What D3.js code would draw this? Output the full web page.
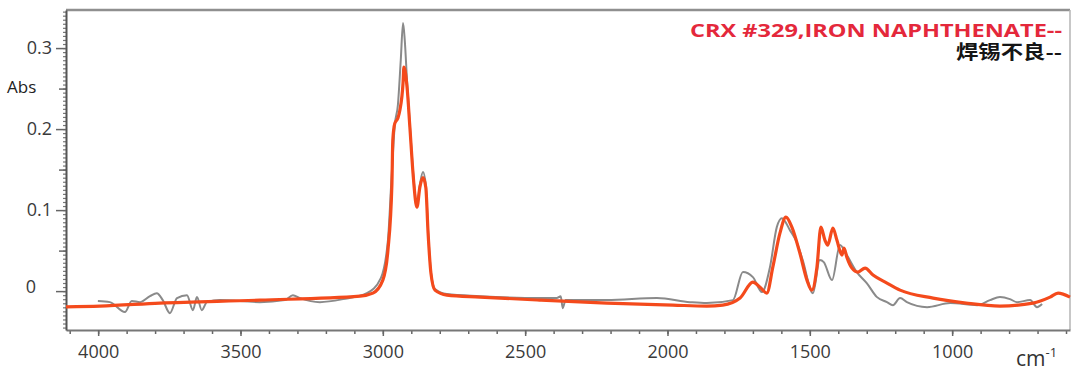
<!DOCTYPE html>
<html>
<head>
<meta charset="utf-8">
<script src="https://cdn.jsdelivr.net/npm/d3@7"></script>
<style>
  body { margin: 0; background: #fff; }
  svg { display: block; font-family: "Open Sans", "DejaVu Sans", sans-serif; }
</style>
</head>
<body>
<div class="chart_box"></div>
<script>
// spectrum data: wavenumber (cm-1) and absorbance
const redWave = [4113, 3994, 3783, 3432, 3080, 3035, 3000, 2982, 2968, 2965, 2958, 2947, 2940, 2929, 2926,
  2915, 2905, 2894, 2884, 2880, 2870, 2859, 2849, 2841, 2831, 2817, 2775, 2659, 2449, 2213, 1981, 1862,
  1806, 1745, 1700, 1675, 1651, 1630, 1605, 1584, 1563, 1535, 1510, 1493, 1475, 1461, 1447, 1437, 1419,
  1405, 1387, 1380, 1370, 1352, 1331, 1306, 1278, 1229, 1183, 1067, 951, 832, 716, 656, 628, 586];
const redAbs = [-0.0194, -0.0185, -0.0148, -0.0111, -0.0062, -0.0025, 0.0136, 0.0506, 0.133, 0.186, 0.207,
  0.2136, 0.2235, 0.257, 0.2765, 0.252, 0.2025, 0.1457, 0.1086, 0.1037, 0.128, 0.14, 0.128, 0.0716, 0.0222,
  0.0012, -0.005, -0.0074, -0.0111, -0.0148, -0.0173, -0.0185, -0.0173, -0.0086, 0.0111, 0.0049, -0.0025,
  0.0296, 0.0716, 0.0914, 0.079, 0.047, 0.0136, 0.0012, 0.0296, 0.079, 0.063, 0.0568, 0.0778, 0.063,
  0.0444, 0.053, 0.042, 0.0284, 0.0235, 0.0284, 0.0198, 0.0099, 0.0012, -0.0086, -0.0148, -0.0185,
  -0.0148, -0.0074, -0.0025, -0.0074];

const greyWave = [4001, 3959, 3906, 3882, 3853, 3818, 3794, 3773, 3748, 3723, 3688, 3667, 3653, 3636, 3618,
  3572, 3432, 3344, 3316, 3291, 3221, 3140, 3056, 3007, 2982, 2968, 2958, 2947, 2937, 2929, 2923, 2915,
  2905, 2894, 2884, 2880, 2870, 2859, 2849, 2841, 2831, 2817, 2775, 2659, 2449, 2389, 2375, 2368, 2358,
  2213, 2037, 1921, 1862, 1770, 1735, 1700, 1668, 1640, 1616, 1598, 1570, 1546, 1525, 1489, 1465, 1451,
  1422, 1394, 1370, 1335, 1300, 1264, 1229, 1208, 1183, 1159, 1088, 1007, 912, 867, 832, 797, 772, 726,
  702, 684];
const greyAbs = [-0.0123, -0.0136, -0.0259, -0.0123, -0.0136, -0.0062, -0.0025, -0.0111, -0.0272, -0.0086,
  -0.005, -0.0235, -0.0074, -0.0235, -0.0136, -0.0111, -0.0136, -0.0111, -0.005, -0.0086, -0.0136,
  -0.0099, -0.0025, 0.016, 0.063, 0.149, 0.205, 0.23, 0.285, 0.331, 0.31, 0.26, 0.205, 0.149, 0.112,
  0.107, 0.131, 0.147, 0.131, 0.075, 0.0235, 0.0025, -0.0037, -0.0062, -0.0086, -0.0086, -0.0062, -0.021,
  -0.0111, -0.0111, -0.0086, -0.0136, -0.0148, -0.0111, 0.0235, 0.0173, -0.0012, 0.0296, 0.079, 0.09,
  0.0753, 0.0605, 0.0383, -0.0025, 0.0383, 0.0358, 0.0136, 0.0568, 0.0444, 0.0235, 0.0099, -0.0074,
  -0.0136, -0.0173, -0.0086, -0.0136, -0.0198, -0.0148, -0.0173, -0.0111, -0.0074, -0.0099, -0.0136,
  -0.0111, -0.0198, -0.016];

const xTicks = [4000, 3500, 3000, 2500, 2000, 1500, 1000];
const yTicks = [0, 0.1, 0.2, 0.3];
const legendLabels = ["CRX #329,IRON NAPHTHENATE--", "焊锡不良--"];

const width = 1080, height = 374;
const margin = { left: 66, right: 1070, top: 10, bottom: 330 };

const svg = d3
  .select(".chart_box")
  .append("svg")
  .attr("width", width)
  .attr("height", height);

const xScale = d3.scaleLinear().domain([4113, 586]).range([margin.left, margin.right]);
const yScale = d3.scaleLinear().domain([-0.048, 0.347]).range([margin.bottom, margin.top]);

// frame
svg.append("line").attr("x1", margin.left).attr("x2", margin.right)
  .attr("y1", margin.top).attr("y2", margin.top)
  .attr("stroke", "#8f8f8f").attr("stroke-width", 2.5);
svg.append("line").attr("x1", margin.right).attr("x2", margin.right)
  .attr("y1", margin.top).attr("y2", margin.bottom)
  .attr("stroke", "#b5b5b5").attr("stroke-width", 1.5);

// x axis: minor ticks every 100
const xMinor = d3.range(4100, 599, -100);
svg.append("g")
  .attr("transform", `translate(0, ${margin.bottom})`)
  .call(d3.axisBottom(xScale).tickValues(xMinor).tickSize(4).tickFormat(""))
  .call((g) => g.select(".domain").remove())
  .selectAll("line").attr("stroke", "#666").attr("stroke-width", 1.5);

svg.append("g")
  .attr("transform", `translate(0, ${margin.bottom})`)
  .call(d3.axisBottom(xScale).tickValues(xTicks).tickSize(6).tickSizeOuter(0).tickPadding(9)
    .tickFormat(d3.format("d")))
  .call((g) => g.select(".domain").attr("stroke", "#777").attr("stroke-width", 2))
  .call((g) => g.selectAll("line").attr("stroke", "#666").attr("stroke-width", 1.5))
  .selectAll("text")
  .attr("font-size", 18)
  .attr("fill", "#3a3a3a")
  .attr("font-family", "'Open Sans', sans-serif");

// y axis: minor ticks every 0.005, medium every 0.05
const yMinor = d3.range(-45, 346, 5).map((v) => v / 1000);
svg.append("g")
  .attr("transform", `translate(${margin.left}, 0)`)
  .call(d3.axisLeft(yScale).tickValues(yMinor).tickSize(3).tickFormat(""))
  .call((g) => g.select(".domain").remove())
  .selectAll("line").attr("stroke", "#777").attr("stroke-width", 1.2);

svg.append("g")
  .attr("transform", `translate(${margin.left}, 0)`)
  .call(d3.axisLeft(yScale).tickValues([0.05, 0.15, 0.25]).tickSize(7).tickFormat(""))
  .call((g) => g.select(".domain").remove())
  .selectAll("line").attr("stroke", "#666").attr("stroke-width", 1.5);

const yAxis = svg.append("g")
  .attr("transform", `translate(${margin.left}, 0)`)
  .call(d3.axisLeft(yScale).tickValues(yTicks).tickSize(10).tickSizeOuter(0).tickPadding(4)
    .tickFormat((d) => (d === 0 ? "0" : d3.format(".1f")(d))))
  .call((g) => g.select(".domain").attr("stroke", "#555").attr("stroke-width", 2))
  .call((g) => g.selectAll("line").attr("stroke", "#666").attr("stroke-width", 1.5));

yAxis.selectAll("text")
  .attr("font-size", 18)
  .attr("fill", "#3a3a3a")
  .attr("font-family", "'Open Sans', sans-serif")
  .attr("x", (d) => (d === 0 ? -30 : -14))
  .attr("dy", (d) => (d === 0 ? "0.1em" : "0.32em"));

// axis titles
svg.append("text")
  .attr("x", 7).attr("y", 93)
  .attr("font-size", 17).attr("fill", "#222")
  .text("Abs");

const cm = svg.append("text")
  .attr("x", 1016).attr("y", 366)
  .attr("font-size", 21).attr("fill", "#333");
cm.append("tspan").text("cm");
cm.append("tspan").attr("font-size", 13).attr("dy", -9).text("-1");

// spectra
const line = d3.line()
  .x((d) => xScale(d.w))
  .y((d) => yScale(d.a))
  .curve(d3.curveMonotoneX);

const greyData = greyWave.map((w, i) => ({ w, a: greyAbs[i] }));
const redData = redWave.map((w, i) => ({ w, a: redAbs[i] }));

svg.append("path")
  .datum(greyData)
  .attr("d", line)
  .attr("fill", "none")
  .attr("stroke", "#8a8a8a")
  .attr("stroke-width", 2);

svg.append("path")
  .datum(redData)
  .attr("d", line)
  .attr("fill", "none")
  .attr("stroke", "#f44a1c")
  .attr("stroke-width", 3.2);

// legend
svg.append("text")
  .attr("x", 1062).attr("y", 37)
  .attr("text-anchor", "end")
  .attr("font-size", 17).attr("font-weight", "bold")
  .attr("fill", "#e4283b")
  .attr("textLength", 372).attr("lengthAdjust", "spacingAndGlyphs")
  .text(legendLabels[0]);

svg.append("text")
  .attr("x", 1062).attr("y", 59)
  .attr("text-anchor", "end")
  .attr("font-size", 19).attr("font-weight", "bold")
  .attr("font-family", "'Noto Sans CJK SC', sans-serif")
  .attr("fill", "#151515")
  .attr("textLength", 106).attr("lengthAdjust", "spacingAndGlyphs")
  .text(legendLabels[1]);
</script>
</body>
</html>
